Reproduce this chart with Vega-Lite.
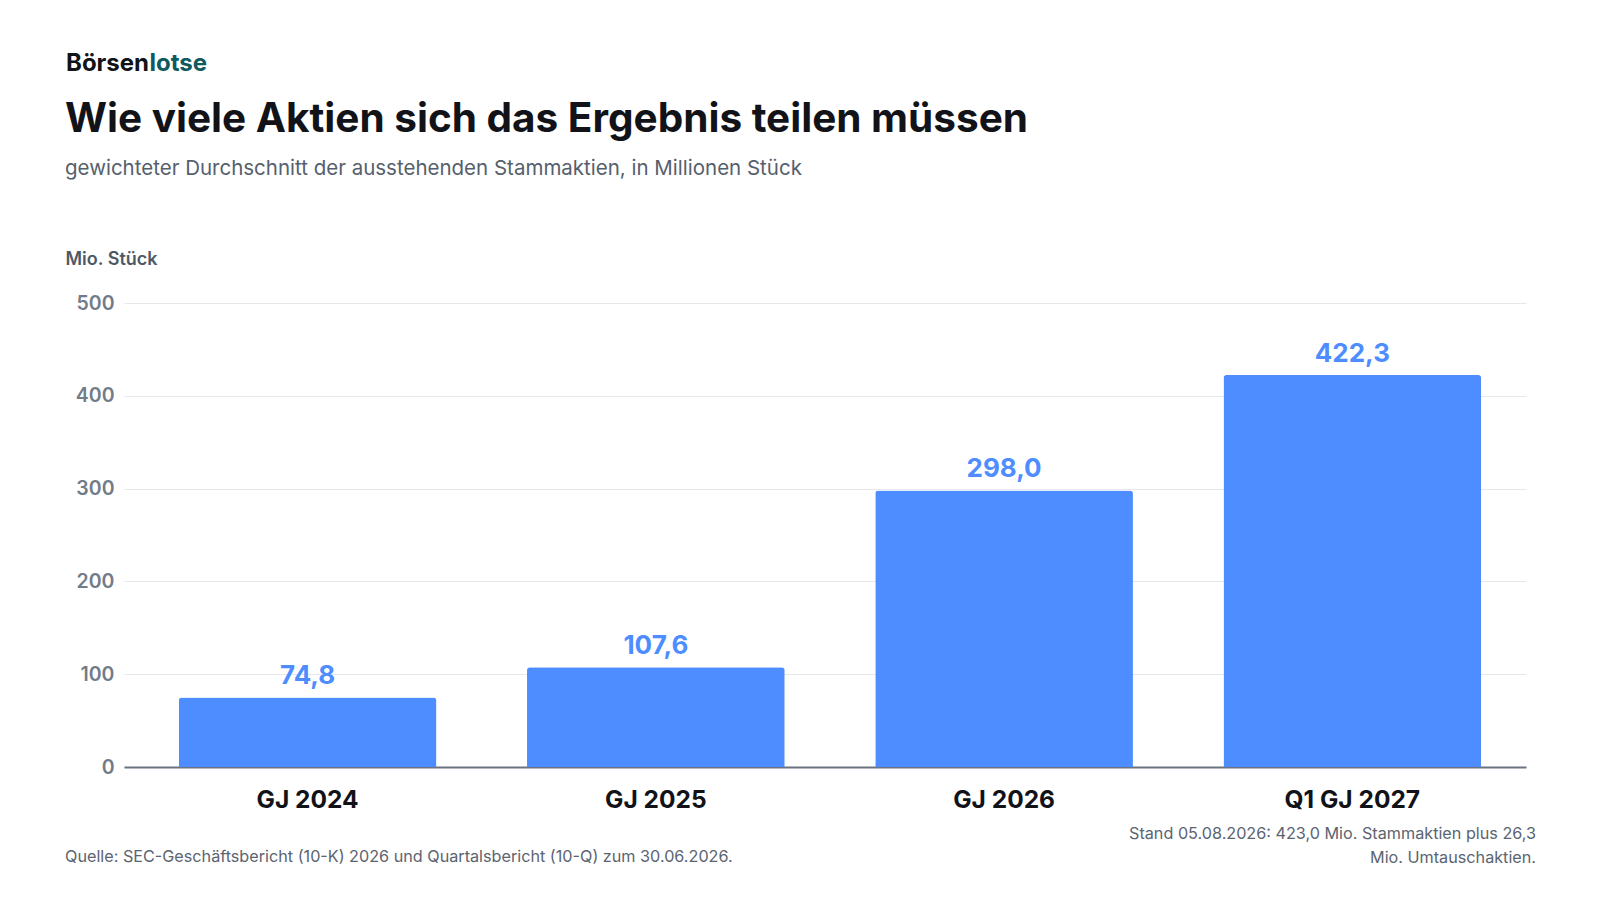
{
  "$schema": "https://vega.github.io/schema/vega-lite/v6.json",
  "width": 1402,
  "height": 464,
  "autosize": {"type": "none"},
  "padding": {"left": 124, "top": 303, "right": 74, "bottom": 133},
  "background": "white",
  "config": {
    "font": "Inter",
    "view": {"stroke": null},
    "locale": {"number": {"decimal": ",", "thousands": ".", "grouping": [3], "currency": ["", " €"]}}
  },
  "title": {
    "text": "Wie viele Aktien sich das Ergebnis teilen müssen",
    "subtitle": "gewichteter Durchschnitt der ausstehenden Stammaktien, in Millionen Stück",
    "anchor": "start",
    "frame": "bounds",
    "offset": -127,
    "fontSize": 40.5,
    "fontWeight": 700,
    "color": "#111318",
    "subtitleFontSize": 20.5,
    "subtitleColor": "#56606c",
    "subtitlePadding": 18
  },
  "data": {
    "values": [
      {"period": "GJ 2024", "shares": 74.8},
      {"period": "GJ 2025", "shares": 107.6},
      {"period": "GJ 2026", "shares": 298.0},
      {"period": "Q1 GJ 2027", "shares": 422.3}
    ]
  },
  "layer": [
    {
      "mark": {"type": "bar", "color": "#4d8dff", "cornerRadiusTopLeft": 3, "cornerRadiusTopRight": 3},
      "encoding": {
        "x": {
          "field": "period", "type": "nominal", "sort": null,
          "scale": {"paddingInner": 0.26, "paddingOuter": 0.143, "align": 0.55},
          "axis": {
            "title": null, "labelAngle": 0, "ticks": false, "tickSize": 0,
            "labelFontSize": 24.5, "labelFontWeight": 700, "labelColor": "#111318",
            "labelBaseline": "alphabetic", "labelPadding": 40,
            "domainColor": "#6b7280", "domainWidth": 2
          }
        },
        "y": {
          "field": "shares", "type": "quantitative",
          "scale": {"domain": [0, 500], "nice": false},
          "axis": {
            "values": [0, 100, 200, 300, 400, 500],
            "title": "Mio. Stück", "titleAngle": 0, "titleAlign": "left", "titleBaseline": "alphabetic",
            "titleX": -59, "titleY": -39, "titleFontSize": 18, "titleFontWeight": 600, "titleColor": "#4f5966",
            "domain": false, "ticks": false, "tickSize": 0,
            "labelFontSize": 19.5, "labelFontWeight": 600, "labelColor": "#727c89", "labelPadding": 10,
            "gridColor": "#e5e7eb", "gridWidth": 1.2
          }
        }
      }
    },
    {
      "mark": {"type": "text", "baseline": "alphabetic", "dy": -13.5, "fontSize": 26, "fontWeight": 700, "color": "#4d8dff"},
      "encoding": {
        "x": {"field": "period", "type": "nominal", "sort": null},
        "y": {"field": "shares", "type": "quantitative"},
        "text": {"field": "shares", "type": "quantitative", "format": ".1f"}
      }
    },
    {
      "data": {"values": [{"brand": "Börsen"}]},
      "mark": {"type": "text", "align": "left", "baseline": "alphabetic", "fontSize": 24, "fontWeight": 700, "color": "#111318"},
      "encoding": {"text": {"field": "brand"}, "x": {"value": -58}, "y": {"value": -232}}
    },
    {
      "data": {"values": [{"brand": "lotse"}]},
      "mark": {"type": "text", "align": "left", "baseline": "alphabetic", "fontSize": 24, "fontWeight": 700, "color": "#0e5a5c"},
      "encoding": {"text": {"field": "brand"}, "x": {"value": 25.5}, "y": {"value": -232}}
    },
    {
      "data": {"values": [{"note": "Quelle: SEC-Geschäftsbericht (10-K) 2026 und Quartalsbericht (10-Q) zum 30.06.2026."}]},
      "mark": {"type": "text", "align": "left", "baseline": "alphabetic", "fontSize": 16.2, "color": "#5b6470"},
      "encoding": {"text": {"field": "note"}, "x": {"value": -59}, "y": {"value": 559}}
    },
    {
      "data": {"values": [{"note": ["Stand 05.08.2026: 423,0 Mio. Stammaktien plus 26,3", "Mio. Umtauschaktien."]}]},
      "mark": {"type": "text", "align": "right", "baseline": "alphabetic", "fontSize": 16.2, "lineHeight": 24, "color": "#5b6470"},
      "encoding": {"text": {"field": "note"}, "x": {"value": 1412}, "y": {"value": 536}}
    }
  ]
}
